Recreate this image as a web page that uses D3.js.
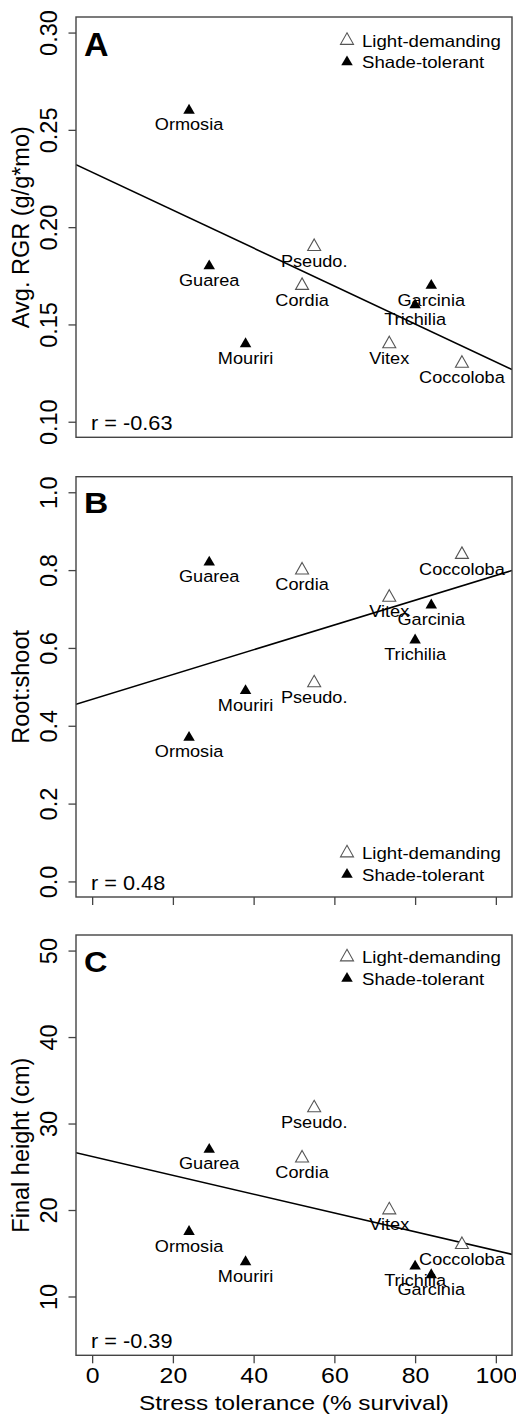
<!DOCTYPE html>
<html>
<head>
<meta charset="utf-8">
<script src="https://cdn.jsdelivr.net/npm/d3@7/dist/d3.min.js"></script>
<style>
  html, body { margin: 0; padding: 0; background: #fff; }
  svg { display: block; }
  text { font-family: Arial, "Liberation Sans", Helvetica, sans-serif; fill: #000; }
</style>
</head>
<body>
<svg id="chart" width="516" height="1416"></svg>
<script>
// Species, shade group and the three measured traits against stress tolerance
const species = ["Ormosia", "Guarea", "Mouriri", "Cordia", "Pseudo.", "Vitex", "Trichilia", "Garcinia", "Coccoloba"];
const groups = ["shade", "shade", "shade", "light", "light", "light", "shade", "shade", "light"];
const survival = [24, 29, 38, 52, 55, 73.6, 80, 84, 91.6];
const rgr = [0.26, 0.18, 0.14, 0.17, 0.19, 0.14, 0.16, 0.17, 0.13];
const rootShoot = [0.37, 0.82, 0.49, 0.80, 0.51, 0.73, 0.62, 0.71, 0.84];
const finalHeight = [17.5, 27, 14, 26, 31.8, 20, 13.5, 12.5, 16];

const xTicks = [0, 20, 40, 60, 80, 100];
const rgrTicks = [0.10, 0.15, 0.20, 0.25, 0.30];
const rgrTickLabels = ["0.10", "0.15", "0.20", "0.25", "0.30"];
const rsTicks = [0.0, 0.2, 0.4, 0.6, 0.8, 1.0];
const rsTickLabels = ["0.0", "0.2", "0.4", "0.6", "0.8", "1.0"];
const htTicks = [10, 20, 30, 40, 50];
const htTickLabels = ["10", "20", "30", "40", "50"];
const legendLabels = ["Light-demanding", "Shade-tolerant"];
const legendGroups = ["light", "shade"];

const svg = d3.select("#chart");
const left = 76, right = 512, panelH = 420.3;
const x = d3.scaleLinear().domain([-4, 104]).range([left, right]);

// Triangles centred on their centroid, slightly wider than tall
function triangle(w, h) {
  return `M0,${-2 * h / 3}L${w / 2},${h / 3}L${-w / 2},${h / 3}Z`;
}
const openTri = triangle(13, 11.5);
const solidTri = triangle(11.5, 9.8);

function drawMarker(g, cx, cy, group) {
  const p = g.append("path").attr("transform", `translate(${cx},${cy})`);
  if (group === "light") {
    p.attr("d", openTri).attr("fill", "#fff").attr("stroke", "#555").attr("stroke-width", 1.1);
  } else {
    p.attr("d", solidTri).attr("fill", "#000");
  }
}

function hText(g, tx, ty, str, size, sx, anchor, weight) {
  return g.append("text")
    .attr("transform", `translate(${tx},${ty}) scale(${sx},1)`)
    .attr("text-anchor", anchor || "middle")
    .attr("font-size", size)
    .attr("font-weight", weight || "normal")
    .text(str);
}

function fit(xs, ys) {
  const mx = d3.mean(xs), my = d3.mean(ys);
  let sxy = 0, sxx = 0;
  xs.forEach((v, i) => { sxy += (v - mx) * (ys[i] - my); sxx += (v - mx) * (v - mx); });
  const b = sxy / sxx;
  return { a: my - b * mx, b };
}

function panel(opt) {
  const top = opt.top, bottom = top + panelH;
  const y = d3.scaleLinear().domain(opt.yDomain).range([bottom, top]);
  const g = svg.append("g");
  const clipId = "clip-" + opt.letter;
  svg.append("clipPath").attr("id", clipId)
    .append("rect").attr("x", left).attr("y", top).attr("width", right - left).attr("height", panelH);

  // regression line across the plotting region
  const f = fit(survival, opt.values);
  const dom = x.domain();
  g.append("line")
    .attr("clip-path", `url(#${clipId})`)
    .attr("x1", x(dom[0])).attr("y1", y(f.a + f.b * dom[0]))
    .attr("x2", x(dom[1])).attr("y2", y(f.a + f.b * dom[1]))
    .attr("stroke", "#000").attr("stroke-width", 1.6);

  // points and species labels
  survival.forEach((sv, i) => {
    drawMarker(g, x(sv), y(opt.values[i]), groups[i]);
  });
  survival.forEach((sv, i) => {
    hText(g, x(sv), y(opt.values[i]) + 20, species[i], 16.5, 1.1);
  });

  // frame
  g.append("rect").attr("x", left).attr("y", top).attr("width", right - left).attr("height", panelH)
    .attr("fill", "none").attr("stroke", "#444").attr("stroke-width", 1.4);

  // x axis ticks
  const xa = g.append("g").attr("transform", `translate(0,${bottom})`)
    .call(d3.axisBottom(x).tickValues(xTicks).tickSize(8).tickFormat(d => d));
  xa.select(".domain").remove();
  xa.selectAll("line").attr("stroke", "#444").attr("stroke-width", 1.3);
  xa.selectAll("text")
    .attr("y", opt.xLabelY).attr("dy", 0)
    .attr("font-size", 22).attr("fill", "#000")
    .attr("transform", "scale(1.13,1)")
    .style("display", opt.showXLabels ? null : "none");
  if (opt.xLabelClip) {
    svg.append("clipPath").attr("id", clipId + "-x")
      .append("rect").attr("x", 0).attr("y", bottom).attr("width", 516).attr("height", opt.xLabelClip);
    xa.attr("clip-path", `url(#${clipId}-x)`);
    xa.selectAll("text").attr("fill", "#999");
  }

  // y axis ticks with labels turned sideways
  const ya = g.append("g").attr("transform", `translate(${left},0)`)
    .call(d3.axisLeft(y).tickValues(opt.yTicks).tickSize(7.5).tickFormat((d, i) => opt.yTickLabels[i]));
  ya.select(".domain").remove();
  ya.selectAll("line").attr("stroke", "#444").attr("stroke-width", 1.3);
  ya.selectAll("text")
    .attr("transform", "rotate(-90)")
    .attr("x", 0).attr("y", -19).attr("dy", 0)
    .attr("text-anchor", "middle")
    .attr("font-size", 23.5).attr("fill", "#000");

  // y axis title
  g.append("text")
    .attr("transform", `translate(28.5,${(top + bottom) / 2}) rotate(-90)`)
    .attr("text-anchor", "middle").attr("font-size", 23.5)
    .text(opt.yTitle);

  // panel letter
  hText(g, 84, top + opt.letterBase, opt.letter, opt.letterSize, opt.letterSx, "start", "bold");

  // correlation
  hText(g, 91, bottom - 7, opt.rText, 20.5, 1.06, "start");

  // legend
  legendLabels.forEach((lab, i) => {
    const cy = opt.legendY + i * 21.5;
    drawMarker(g, 347, cy, legendGroups[i]);
    hText(g, 362, cy + 6, lab, 16.5, 1.13, "start");
  });
}

panel({
  letter: "A", top: 17, yDomain: [0.092, 0.308], values: rgr,
  yTicks: rgrTicks, yTickLabels: rgrTickLabels, yTitle: "Avg. RGR (g/g*mo)",
  rText: "r = -0.63", legendY: 40.5, letterBase: 39, letterSize: 34, letterSx: 1,
  showXLabels: true, xLabelY: 24, xLabelClip: 10.5
});
panel({
  letter: "B", top: 476.7, yDomain: [-0.04, 1.04], values: rootShoot,
  yTicks: rsTicks, yTickLabels: rsTickLabels, yTitle: "Root:shoot",
  rText: "r = 0.48", legendY: 853, letterBase: 36.5, letterSize: 30, letterSx: 1.12,
  showXLabels: false, xLabelY: 27.3
});
panel({
  letter: "C", top: 935, yDomain: [3.2, 51.8], values: finalHeight,
  yTicks: htTicks, yTickLabels: htTickLabels, yTitle: "Final height (cm)",
  rText: "r = -0.39", legendY: 957, letterBase: 36.5, letterSize: 29, letterSx: 1.12,
  showXLabels: true, xLabelY: 27.3
});

// shared x axis title under the bottom panel
hText(svg, (left + right) / 2, 1410, "Stress tolerance (% survival)", 21, 1.16, "middle");
</script>
</body>
</html>
